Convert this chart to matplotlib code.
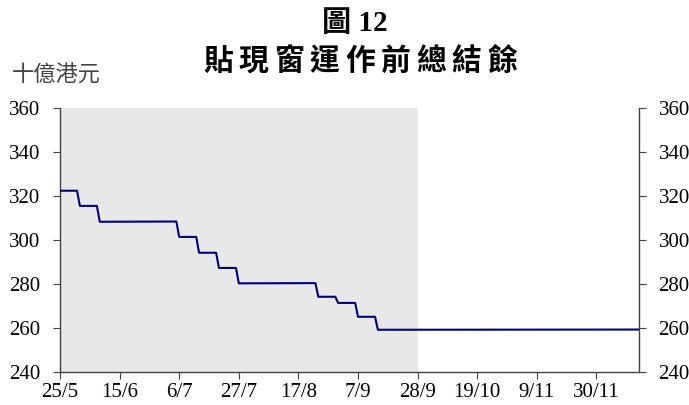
import matplotlib
matplotlib.use('agg')
import matplotlib.pyplot as plt

# data: days counted from 25/5, corner points of the step line
days = [0, 6, 7, 13, 14, 41, 42, 48, 49, 55, 56, 62, 63, 90, 91, 97, 98,
        104, 105, 111, 112, 204]
balance = [322.4, 322.4, 315.5, 315.5, 308.3, 308.4, 301.4, 301.4, 294.2,
           294.2, 287.3, 287.3, 280.3, 280.4, 274.2, 274.2, 271.4, 271.4,
           265.1, 265.1, 259.2, 259.3]
tick_days = [0, 21, 42, 63, 84, 105, 126, 147, 168, 189]
tick_labels = ['25/5', '15/6', '6/7', '27/7', '17/8', '7/9', '28/9',
               '19/10', '9/11', '30/11']
shade_end = 126
title_chars = '貼現窗運作前總結餘'

serif = ['Liberation Serif', 'DejaVu Serif']
cjk = ['Noto Sans CJK TC', 'DejaVu Sans']

fig = plt.figure(figsize=(6.89, 4.05), dpi=100)
ax = fig.add_axes([60 / 689, 1 - 372 / 405, 579 / 689, 264 / 405])

ax.axvspan(0, shade_end, color='#e8e8e8', lw=0, zorder=0)
ax.plot(days, balance, color='#000080', lw=1.5, zorder=3)

ax.set_xlim(0, 204)
ax.set_ylim(240, 360)
ax.set_yticks(range(240, 361, 20))
ax.set_xticks(tick_days)
ax.set_xticklabels(tick_labels)

ax.spines['top'].set_visible(False)
for s in ['left', 'right', 'bottom']:
    ax.spines[s].set_color('#404040')
    ax.spines[s].set_linewidth(1.0)

ax.tick_params(axis='both', direction='out', length=5, color='#404040',
               labelsize=15)
ax.tick_params(axis='y', right=True, labelright=True, pad=9)
ax.tick_params(axis='x', pad=3)
for lab in ax.get_xticklabels() + ax.get_yticklabels():
    lab.set_family(serif)

# figure number
fig.text(355 / 689, 1 - 23 / 405, '圖 12', ha='center', va='center',
         fontsize=21, fontweight='bold',
         family=['Liberation Serif', 'Noto Sans CJK TC'])
# title, one character at a time for the wide spacing
for i, ch in enumerate(title_chars):
    fig.text((218 + i * 35.5) / 689, 1 - 61 / 405, ch, ha='center',
             va='center', fontsize=21.5, fontweight='bold', family=cjk)
fig.text(12 / 689, 1 - 75 / 405, '十億港元', ha='left', va='center',
         fontsize=16, family=cjk, color='#444444')

plt.savefig('out.png', dpi=100)
